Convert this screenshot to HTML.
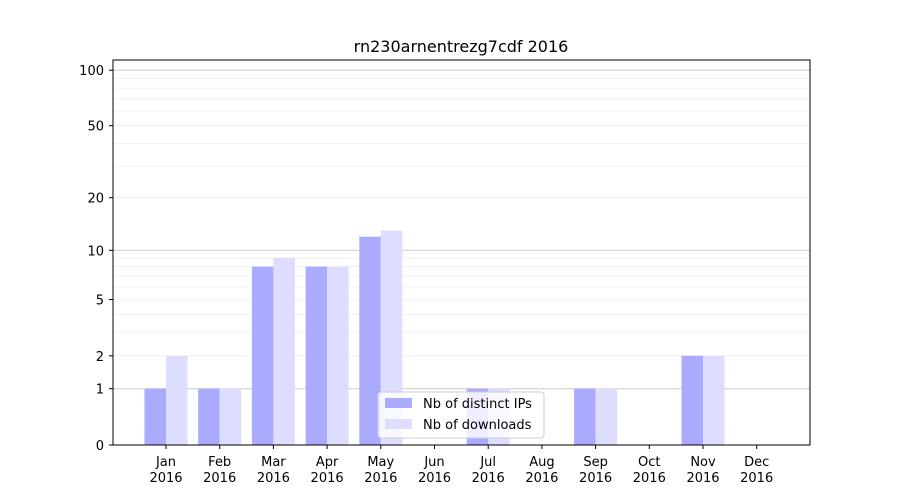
<!DOCTYPE html>
<html><head><meta charset="utf-8"><style>body{margin:0;background:#fff}svg{display:block;font-family:"DejaVu Sans","Liberation Sans",sans-serif}</style></head>
<body>
<svg width="900" height="500" xmlns="http://www.w3.org/2000/svg">
<rect width="900" height="500" fill="#fff"/>
<g stroke="#eee" stroke-width="0.8">
<line x1="113" x2="810" y1="355.8" y2="355.8"/><line x1="113" x2="810" y1="332.4" y2="332.4"/><line x1="113" x2="810" y1="314.3" y2="314.3"/><line x1="113" x2="810" y1="299.5" y2="299.5"/><line x1="113" x2="810" y1="287" y2="287"/><line x1="113" x2="810" y1="276.1" y2="276.1"/><line x1="113" x2="810" y1="266.6" y2="266.6"/><line x1="113" x2="810" y1="258" y2="258"/>
<line x1="113" x2="810" y1="197.7" y2="197.7"/><line x1="113" x2="810" y1="166.1" y2="166.1"/><line x1="113" x2="810" y1="143.4" y2="143.4"/><line x1="113" x2="810" y1="125.7" y2="125.7"/><line x1="113" x2="810" y1="111.1" y2="111.1"/><line x1="113" x2="810" y1="98.8" y2="98.8"/><line x1="113" x2="810" y1="88.1" y2="88.1"/><line x1="113" x2="810" y1="78.7" y2="78.7"/>
</g>
<g stroke="#ccc" stroke-width="1">
<line x1="113" x2="810" y1="388.7" y2="388.7"/><line x1="113" x2="810" y1="250.3" y2="250.3"/><line x1="113" x2="810" y1="70.2" y2="70.2"/>
</g>
<g fill="#aaaaff">
<rect x="144.5" y="388.7" width="21.5" height="56.3"/>
<rect x="198.2" y="388.7" width="21.5" height="56.3"/>
<rect x="251.9" y="266.6" width="21.5" height="178.4"/>
<rect x="305.6" y="266.6" width="21.5" height="178.4"/>
<rect x="359.3" y="236.7" width="21.5" height="208.3"/>
<rect x="466.7" y="388.7" width="21.5" height="56.3"/>
<rect x="574.1" y="388.7" width="21.5" height="56.3"/>
<rect x="681.5" y="355.8" width="21.5" height="89.2"/>
</g>
<g fill="#ddddff">
<rect x="166" y="355.8" width="21.5" height="89.2"/>
<rect x="219.7" y="388.7" width="21.5" height="56.3"/>
<rect x="273.4" y="258" width="21.5" height="187"/>
<rect x="327.1" y="266.6" width="21.5" height="178.4"/>
<rect x="380.8" y="230.7" width="21.5" height="214.3"/>
<rect x="488.2" y="388.7" width="21.5" height="56.3"/>
<rect x="595.6" y="388.7" width="21.5" height="56.3"/>
<rect x="703" y="355.8" width="21.5" height="89.2"/>
</g>
<rect x="113" y="60" width="697" height="385" fill="none" stroke="#000" stroke-width="1"/>
<g stroke="#000">
<line x1="166" x2="166" y1="445" y2="449"/><line x1="219.7" x2="219.7" y1="445" y2="449"/><line x1="273.4" x2="273.4" y1="445" y2="449"/><line x1="327.1" x2="327.1" y1="445" y2="449"/><line x1="380.8" x2="380.8" y1="445" y2="449"/><line x1="434.5" x2="434.5" y1="445" y2="449"/><line x1="488.2" x2="488.2" y1="445" y2="449"/><line x1="541.9" x2="541.9" y1="445" y2="449"/><line x1="595.6" x2="595.6" y1="445" y2="449"/><line x1="649.3" x2="649.3" y1="445" y2="449"/><line x1="703" x2="703" y1="445" y2="449"/><line x1="756.7" x2="756.7" y1="445" y2="449"/>
<line x1="109" x2="113" y1="445" y2="445"/><line x1="109" x2="113" y1="388.7" y2="388.7"/><line x1="109" x2="113" y1="355.8" y2="355.8"/><line x1="109" x2="113" y1="299.5" y2="299.5"/><line x1="109" x2="113" y1="250.3" y2="250.3"/><line x1="109" x2="113" y1="197.7" y2="197.7"/><line x1="109" x2="113" y1="125.7" y2="125.7"/><line x1="109" x2="113" y1="70.2" y2="70.2"/>
</g>
<g font-size="13" fill="#000" text-anchor="middle">
<text x="166" y="466">Jan</text><text x="219.7" y="466">Feb</text><text x="273.4" y="466">Mar</text><text x="327.1" y="466">Apr</text><text x="380.8" y="466">May</text><text x="434.5" y="466">Jun</text><text x="488.2" y="466">Jul</text><text x="541.9" y="466">Aug</text><text x="595.6" y="466">Sep</text><text x="649.3" y="466">Oct</text><text x="703" y="466">Nov</text><text x="756.7" y="466">Dec</text>
<text x="166" y="482">2016</text><text x="219.7" y="482">2016</text><text x="273.4" y="482">2016</text><text x="327.1" y="482">2016</text><text x="380.8" y="482">2016</text><text x="434.5" y="482">2016</text><text x="488.2" y="482">2016</text><text x="541.9" y="482">2016</text><text x="595.6" y="482">2016</text><text x="649.3" y="482">2016</text><text x="703" y="482">2016</text><text x="756.7" y="482">2016</text>
</g>
<g font-size="13" fill="#000" text-anchor="end">
<text x="104" y="450">0</text><text x="104" y="393.7">1</text><text x="104" y="360.8">2</text><text x="104" y="304.5">5</text><text x="104" y="255.3">10</text><text x="104" y="202.7">20</text><text x="104" y="130.7">50</text><text x="104" y="75.2">100</text>
</g>
<text x="461" y="52" font-size="16" text-anchor="middle">rn230arnentrezg7cdf 2016</text>
<rect x="378" y="392" width="166" height="46" rx="3" fill="#fff" fill-opacity="0.8" stroke="#ccc"/>
<rect x="385" y="398" width="27" height="10" fill="#aaaaff"/>
<text x="423" y="408" font-size="13">Nb of distinct IPs</text>
<rect x="385" y="419" width="27" height="10" fill="#ddddff"/>
<text x="423" y="429" font-size="13">Nb of downloads</text>
</svg>
</body></html>
